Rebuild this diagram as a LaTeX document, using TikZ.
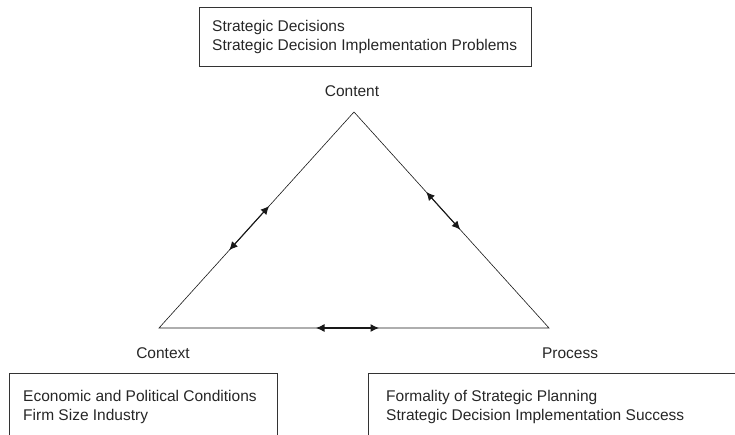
\documentclass[tikz,border=0pt]{standalone}
\usepackage{fontspec}
\setmainfont{Liberation Sans}
\usetikzlibrary{arrows.meta,calc}
\begin{document}
\begin{tikzpicture}[x=1pt,y=-1pt,
  lbl/.style={font=\fontsize{15.5}{18.5}\selectfont, inner sep=0pt, text=black!85},
  boxtxt/.style={lbl, anchor=north west, align=left},
  frame/.style={draw=black!80, line width=0.8pt},
  edge/.style={draw=black!90, line width=0.6pt},
  dbl/.style={draw=black!90, line width=1.1pt, {Latex[length=8.5pt,width=8pt]}-{Latex[length=8.5pt,width=8pt]}}]
\useasboundingbox (0,0) rectangle (735,435);
\clip (0,0) rectangle (735,435);
% top box
\node[frame, minimum width=332pt, minimum height=59pt, anchor=north west, inner sep=0pt] (topbox) at (199,7) {};
\node[boxtxt] (toptxt) at (212,20.5) {Strategic Decisions\\Strategic Decision Implementation Problems};
% triangle
\coordinate (A) at (354,112);
\coordinate (B) at (159,328);
\coordinate (C) at (549,328);
\draw[edge] (A) -- (B) -- (C) -- cycle;
\node[lbl] (content) at (352,91) {Content};
\node[lbl] (context) at (163,353) {Context};
\node[lbl] (process) at (570,353) {Process};
% double arrows
\coordinate (l1) at ($(A)!0.435!(B)$);
\coordinate (l2) at ($(A)!0.64!(B)$);
\draw[dbl] (l2) -- (l1);
\coordinate (r1) at ($(A)!0.37!(C)$);
\coordinate (r2) at ($(A)!0.545!(C)$);
\draw[dbl] (r1) -- (r2);
\coordinate (b1) at (316,328);
\coordinate (b2) at (379,328);
\draw[dbl] (b1) -- (b2);
% bottom boxes (cut off)
\draw[frame] (9,445) -- (9,373) -- (277.5,373) -- (277.5,445);
\node[boxtxt] (lefttxt) at (23,390.5) {Economic and Political Conditions\\Firm Size Industry};
\draw[frame] (368,445) -- (368,373) -- (745,373);
\node[boxtxt] (righttxt) at (386,390.5) {Formality of Strategic Planning\\Strategic Decision Implementation Success};
\end{tikzpicture}
\end{document}
